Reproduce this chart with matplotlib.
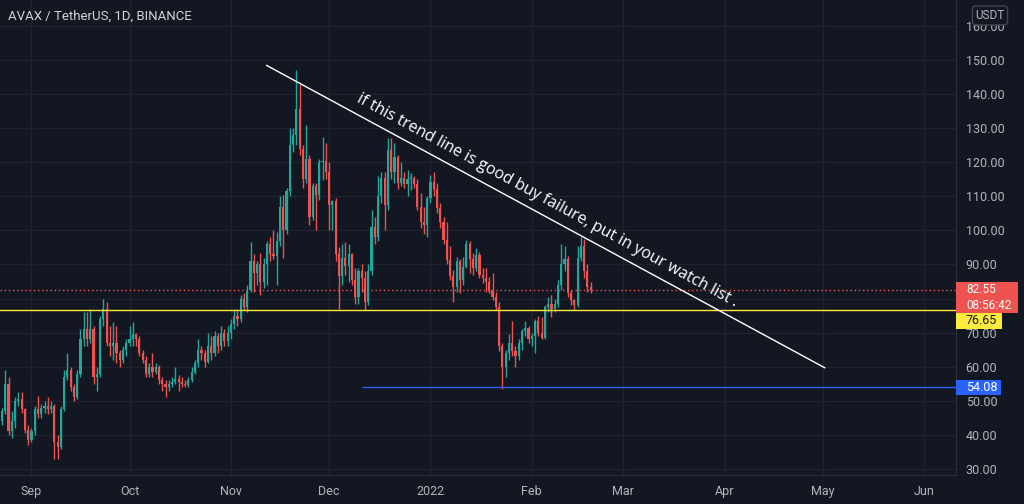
import matplotlib
matplotlib.use('Agg')
import matplotlib.pyplot as plt
import matplotlib.dates as mdates
from matplotlib.patches import Rectangle
from matplotlib.transforms import IdentityTransform
import numpy as np
import pandas as pd

# ---------------- data ----------------
start_date = '2021-08-23'
opens = [44, 47, 55, 41, 44, 50, 50.5, 47.5, 41.5, 38.5, 41, 47.5, 46, 48, 48.5, 47.5, 48.5, 38, 36.5, 47.5,
         57, 59, 54, 51, 58, 68, 71, 68, 71, 57, 58, 74, 77, 67, 66, 67, 64, 62, 65, 67,
         68, 69.5, 68, 64, 62, 58, 60, 58.5, 60, 56, 55, 54, 55, 55.5, 56.5, 55.5, 55, 54.5, 56, 58.5,
         61, 65, 64, 61.5, 66, 64, 69, 66, 70, 67.5, 70, 72.5, 75, 74, 80, 77.5, 82.5, 91, 87.4, 90,
         85, 90, 96, 93, 92.5, 97, 107, 100, 111.5, 125, 128, 135.5, 124, 115, 121, 104, 113, 110.5, 120, 120.5,
         117, 107.5, 108.5, 93, 86.5, 92, 89.5, 93, 85.5, 80.5, 88, 86, 79, 88, 101, 98, 110, 115.5, 107.5, 123.5,
         117, 121.5, 114, 115.5, 113.5, 115.2, 115.5, 113.5, 107, 102.6, 101.5, 109.5, 114.3, 112, 106.5, 102.6, 97.2, 91.3, 86.5, 83.5,
         91, 85.5, 89.4, 96, 91.5, 89, 92.8, 87, 86, 85, 82.5, 80.5, 77.6, 66, 60, 64, 67, 64.5, 63, 67,
         70.5, 71.5, 68, 69, 73.5, 70, 68.5, 77.5, 78.5, 77, 78.5, 84, 90, 91.5, 81.5, 79.5, 78, 92, 95.5, 88,
         83.5]
highs = [48, 59, 57, 47, 51, 52.5, 52.5, 48, 43, 42, 48.5, 51.5, 49, 50, 51, 50, 49, 40, 48.5, 59,
         64, 60, 55, 59, 71, 76, 76, 77, 72, 60, 75, 80, 79, 72, 73, 72, 65, 66, 68, 72,
         73, 70, 69, 65, 63, 61, 64, 61, 60.5, 57, 56, 56, 57, 60, 57.5, 57, 56, 57, 60, 62,
         68, 66, 65, 70, 69, 70.5, 70, 72, 71, 72, 74, 77, 77, 81, 81.5, 84, 96.5, 93, 91, 93.5,
         92, 97, 98, 100, 99.5, 110, 110.5, 112.5, 130, 130, 147, 143, 125, 131, 122, 114, 114, 121, 127.5, 125.5,
         120, 109, 109.5, 95, 96, 96.5, 96, 93.5, 89, 89, 90, 88, 90, 106, 104, 116, 117, 117, 127, 127,
         125.5, 122, 120, 117, 117.7, 116.7, 116, 115, 111, 107, 110, 116.3, 117.2, 114, 108, 104, 102.6, 95.5, 88.5, 92.3,
         91.5, 92.3, 97.2, 97, 93.5, 94.7, 93.8, 89, 88.9, 86.4, 87.4, 82, 79, 67, 65, 69.5, 73.5, 66, 68, 71,
         73.5, 72, 70, 74, 75, 74.5, 78, 80.5, 81, 80, 85.5, 96, 95.5, 92.5, 82.5, 80, 95.5, 98.2, 97.5, 90,
         85]
lows = [43, 46, 40, 39, 42, 48.5, 46.5, 40.5, 37, 38, 40, 45, 45, 46.5, 46, 46.5, 32.8, 33, 36, 47,
        56, 53, 50, 50.5, 57, 66, 66, 67, 55, 53, 57, 72, 66, 63, 62, 61, 60, 61, 63, 66,
        66, 66, 63, 61, 57, 57, 57, 58, 55, 53, 51, 53, 54, 55, 53, 54, 54, 54, 55.5, 58,
        60, 62, 60, 61, 62, 63, 64, 65, 66, 66, 68, 71, 72, 73, 76.6, 76, 82, 82, 84, 81,
        83, 84, 91, 91.5, 84, 95.5, 92, 99, 110, 123, 125, 122, 112.5, 114, 101.5, 103, 100, 109, 114.8, 115,
        100, 100, 91, 77, 84, 87, 85, 84, 78.5, 78.5, 82, 76.5, 78, 87, 96, 97, 108, 100, 106, 115,
        114, 112, 113, 112.5, 110, 111.8, 112.5, 106, 100.6, 99, 98, 108, 110, 105, 100.6, 96, 90, 85.5, 79, 82,
        81.5, 84, 89, 87.4, 87, 88, 86, 84.5, 82, 81.5, 79.6, 76.5, 64.5, 53.5, 57, 62, 63, 60, 62, 65,
        69, 67, 66, 64, 69, 68, 68, 76, 74.5, 76, 77.5, 82.5, 88, 80.5, 78, 76.6, 77.5, 91, 86, 82,
        81.5]
closes = [47, 55, 41, 44, 50, 50.5, 47.5, 41.5, 38.5, 41, 47.5, 46, 48, 48.5, 47.5, 48.5, 38, 36.5, 47.5, 57,
          59, 54, 51, 58, 68, 71, 68, 71, 57, 58, 74, 77, 67, 66, 67, 64, 62, 65, 67, 68,
          69.5, 68, 64, 62, 58, 60, 58.5, 60, 56, 55, 54, 55, 55.5, 56.5, 55.5, 55, 54.5, 56, 58.5, 61,
          65, 64, 61.5, 66, 64, 69, 66, 70, 67.5, 70, 72.5, 75, 74, 80, 77.5, 82.5, 91, 87.4, 90, 85,
          90, 96, 93, 92.5, 97, 107, 100, 111.5, 125, 128, 135.5, 124, 115, 121, 104, 113, 110.5, 120, 120.5, 117,
          107.5, 108.5, 93, 86.5, 92, 89.5, 93, 85.5, 80.5, 88, 86, 79, 88, 101, 98, 110, 115.5, 107.5, 123.5, 117,
          121.5, 114, 115.5, 113.5, 115.2, 115.5, 113.5, 107, 102.6, 101.5, 109.5, 114.3, 112, 106.5, 102.6, 97.2, 91.3, 86.5, 83.5, 91,
          85.5, 89.4, 96, 91.5, 89, 92.8, 87, 86, 85, 82.5, 80.5, 77.6, 66, 60, 64, 67, 64.5, 63, 67, 70.5,
          71.5, 68, 69, 73.5, 70, 68.5, 77.5, 78.5, 77, 78.5, 84, 90, 91.5, 81.5, 79.5, 78, 92, 95.5, 88, 83.5,
          82.55]

support_level = 76.65
low_level = 54.08
last_price = 82.55
countdown = '08:56:42'
low_line_start = '2021-12-11'
trend_dates = ['2021-11-11 18:00', '2022-05-01 18:00']
trend_prices = [148.5, 59.6]
note = 'if this trend line is good buy failure, put in your watch list .'
title = 'AVAX / TetherUS, 1D, BINANCE'
month_ticks = ['2021-09-01', '2021-10-01', '2021-11-01', '2021-12-01', '2022-01-01',
               '2022-02-01', '2022-03-01', '2022-04-01', '2022-05-01', '2022-06-01']
month_labels = ['Sep', 'Oct', 'Nov', 'Dec', '2022', 'Feb', 'Mar', 'Apr', 'May', 'Jun']
price_ticks = list(range(30, 170, 10))
hidden_price_labels = [80]  # covered by the last-price tag in the reference

# ---------------- style ----------------
BG = '#131722'
GRID = '#1f2330'
SEP = '#2a2e39'
UP = '#26a69a'
DOWN = '#ef5350'
TXT = '#b2b5be'
FONT = ['Roboto', 'DejaVu Sans']
plt.rcParams['font.family'] = FONT

W, H = 1024, 504
fig = plt.figure(figsize=(W / 100, H / 100), dpi=100, facecolor=BG)
ax = fig.add_axes([0, 29 / H, 956 / W, 475 / H], facecolor=BG)

dates = pd.date_range(start_date, periods=len(closes), freq='D')
x = mdates.date2num(dates)
o = np.array(opens, float)
c = np.array(closes, float)
colors = [UP if cc >= oo else DOWN for oo, cc in zip(o, c)]

ax.vlines(x, lows, highs, colors=colors, linewidth=1, zorder=3)
body_bottom = np.minimum(o, c)
body_h = np.maximum(np.abs(c - o), 0.35)
ax.bar(x, body_h, bottom=body_bottom, width=0.66, color=colors, linewidth=0, zorder=4)

ax.set_xlim(x[0] - 0.61, x[0] + 291.7)
ax.set_ylim(28.23, 167.6)

# grid and scales
ax.set_yticks(price_ticks)
ax.set_yticklabels(['' if p in hidden_price_labels else f'{p:.2f}' for p in price_ticks])
ax.set_xticks(mdates.date2num(pd.to_datetime(month_ticks)))
ax.set_xticklabels(month_labels)
ax.grid(True, color=GRID, linewidth=1, zorder=0)
ax.set_axisbelow(True)
ax.yaxis.tick_right()
ax.tick_params(axis='y', length=0, pad=7, labelsize=9, labelcolor=TXT)
ax.tick_params(axis='x', length=0, pad=7, labelsize=9, labelcolor=TXT)
for s in ['top', 'left']:
    ax.spines[s].set_visible(False)
for s in ['right', 'bottom']:
    ax.spines[s].set_color(SEP)
    ax.spines[s].set_linewidth(1)

# horizontal levels
ax.axhline(last_price, color=DOWN, linewidth=1, linestyle=(0, (1, 2)), zorder=2)
ax.axhline(support_level, color='#ffeb3b', linewidth=1, zorder=5)
ax.hlines(low_level, mdates.date2num(pd.Timestamp(low_line_start)), ax.get_xlim()[1],
          color='#2962ff', linewidth=1, zorder=5)

# trend line
tx = mdates.date2num(pd.to_datetime(trend_dates))
ax.plot(tx, trend_prices, color='white', linewidth=1, zorder=6, solid_capstyle='butt')

p0 = ax.transData.transform((tx[0], trend_prices[0]))
p1 = ax.transData.transform((tx[1], trend_prices[1]))
ang = np.degrees(np.arctan2(p1[1] - p0[1], p1[0] - p0[0]))
frac = 0.49
mx = tx[0] + frac * (tx[1] - tx[0])
my = trend_prices[0] + frac * (trend_prices[1] - trend_prices[0])
off = 5.0  # points, perpendicular to the line
ox = off * np.sin(np.radians(-ang))
oy = off * np.cos(np.radians(-ang))
ax.annotate(note, xy=(mx, my), xytext=(ox, oy), textcoords='offset points',
            rotation=ang, rotation_mode='anchor', ha='center', va='bottom',
            color='white', fontsize=11.5, family=['Open Sans', 'DejaVu Sans'], zorder=7)

# title
fig.text(8, H - 16, title, transform=IdentityTransform(), ha='left', va='center',
         color='#d1d4dc', fontsize=9.5)

# price tags on the scale
x1 = ax.bbox.x1


def ypx(price):
    return ax.transData.transform((ax.get_xlim()[0], price))[1]


red_top = ypx(last_price) + 8
fig.add_artist(Rectangle((x1, red_top - 31), 62, 31, transform=IdentityTransform(),
                         facecolor=DOWN, edgecolor='none', zorder=10))
fig.text(x1 + 10, red_top - 15.75, f'{last_price:.2f}\n{countdown}', transform=IdentityTransform(),
         ha='left', va='center', color='white', fontsize=8.5, linespacing=1.3, zorder=11)

yel_top = red_top - 31
fig.add_artist(Rectangle((x1, yel_top - 16), 46, 16, transform=IdentityTransform(),
                         facecolor='#ffeb3b', edgecolor='none', zorder=10))
fig.text(x1 + 10, yel_top - 8, f'{support_level:.2f}', transform=IdentityTransform(),
         ha='left', va='center', color='#131722', fontsize=9, zorder=11)

blue_c = ypx(low_level) - 1
fig.add_artist(Rectangle((x1, blue_c - 7.5), 45, 15, transform=IdentityTransform(),
                         facecolor='#2962ff', edgecolor='none', zorder=10))
fig.text(x1 + 10, blue_c, f'{low_level:.2f}', transform=IdentityTransform(),
         ha='left', va='center', color='white', fontsize=9, zorder=11)

# currency box
fig.text(990, H - 15.5, 'USDT', transform=IdentityTransform(), ha='center', va='center',
         color=TXT, fontsize=8.5, zorder=12,
         bbox=dict(boxstyle='round,pad=0.25,rounding_size=0.3', facecolor=BG, edgecolor='#434651', linewidth=1))

fig.savefig('out.png', dpi=100, facecolor=BG)
